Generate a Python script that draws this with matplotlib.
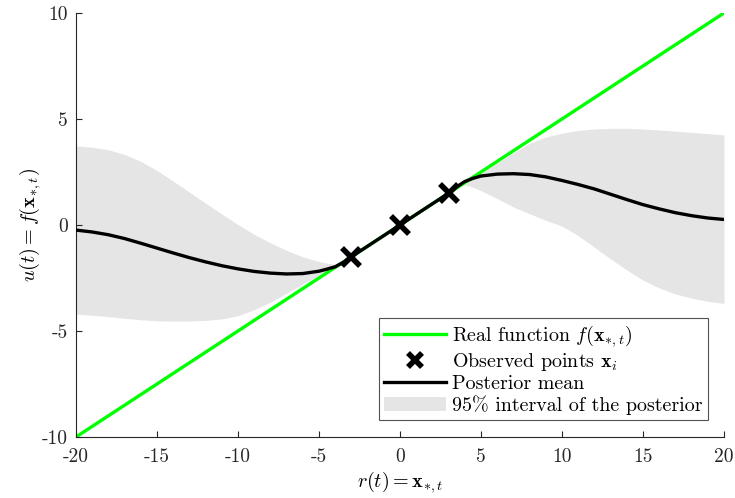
import matplotlib
matplotlib.use("Agg")
import matplotlib.pyplot as plt
from matplotlib.patches import Patch
from matplotlib.lines import Line2D

# LaTeX-like look: Computer Modern for text and math
plt.rcParams['font.family'] = ['cmr10', 'DejaVu Serif']
plt.rcParams['mathtext.fontset'] = 'cm'
plt.rcParams['axes.unicode_minus'] = False
plt.rcParams['axes.formatter.use_mathtext'] = False

# real function and observations
real_x = [-20, 20]
real_y = [-10, 10]
obs_x = [-3, 0, 3]
obs_y = [-1.5, 0, 1.5]

# posterior mean and 95% band, read on a grid
grid_x = [-20, -19, -18, -17, -16, -15, -14, -13, -12, -11, -10, -9, -8, -7, -6,
          -5, -4.5, -4, -3.5, -3, -2, -1, 0, 1, 2, 3, 3.5, 4, 4.5, 5,
          6, 7, 8, 9, 10, 11, 12, 13, 14, 15, 16, 17, 18, 19, 20]
post_mean = [-0.24, -0.33, -0.46, -0.64, -0.86, -1.09, -1.32, -1.54, -1.74, -1.92, -2.07, -2.19, -2.27, -2.31, -2.29,
             -2.18, -2.08, -1.97, -1.76, -1.50, -1.00, -0.50, 0.00, 0.50, 1.00, 1.50, 1.80, 2.05, 2.20, 2.31,
             2.40, 2.42, 2.38, 2.27, 2.10, 1.91, 1.70, 1.45, 1.20, 0.96, 0.76, 0.58, 0.44, 0.33, 0.26]
band_upper = [3.73, 3.67, 3.55, 3.33, 3.00, 2.57, 2.07, 1.55, 1.03, 0.52, 0.02, -0.44, -0.84, -1.20, -1.50,
              -1.72, -1.80, -1.86, -1.72, -1.49, -0.99, -0.49, 0.01, 0.51, 1.01, 1.51, 1.74, 1.98, 2.22, 2.45,
              2.93, 3.40, 3.86, 4.15, 4.33, 4.46, 4.53, 4.56, 4.56, 4.53, 4.48, 4.43, 4.37, 4.31, 4.25]
band_lower = [-4.20, -4.26, -4.32, -4.40, -4.47, -4.52, -4.53, -4.53, -4.50, -4.43, -4.28, -4.00, -3.64, -3.22, -2.78,
              -2.38, -2.20, -2.02, -1.80, -1.51, -1.01, -0.51, -0.01, 0.49, 0.99, 1.49, 1.72, 1.90, 1.78, 1.62,
              1.25, 0.85, 0.53, 0.22, -0.05, -0.50, -1.05, -1.60, -2.12, -2.60, -2.97, -3.25, -3.45, -3.60, -3.70]

x_ticks = [-20, -15, -10, -5, 0, 5, 10, 15, 20]
y_ticks = [-10, -5, 0, 5, 10]

fig = plt.figure(figsize=(7.35, 4.98), dpi=100)
ax = fig.add_axes([0.1034, 0.1225, 0.8816, 0.8514])

band_col = '#e5e5e5'
ax.fill_between(grid_x, band_lower, band_upper, color=band_col, linewidth=0, zorder=1)
ax.plot(real_x, real_y, color='#00ff00', linewidth=2.4, zorder=2)
ax.plot(grid_x, post_mean, color='black', linewidth=2.4, zorder=3)
ax.plot(obs_x, obs_y, linestyle='none', marker='x', color='black',
        markersize=13, markeredgewidth=4, zorder=4)

ax.set_xlim(-20, 20)
ax.set_ylim(-10, 10)
ax.set_xticks(x_ticks)
ax.set_yticks(y_ticks)
ax.set_xticklabels([str(v) for v in x_ticks])
ax.set_yticklabels([str(v) for v in y_ticks])

for side in ['top', 'right']:
    ax.spines[side].set_visible(False)
for side in ['left', 'bottom']:
    ax.spines[side].set_color('#262626')
    ax.spines[side].set_linewidth(0.8)
ax.tick_params(direction='in', length=4.5, width=0.8, color='#262626',
               labelsize=14, labelcolor='#262626')
ax.tick_params(axis='x', pad=8)
ax.tick_params(axis='y', pad=6)

ax.set_xlabel(r'$r(t) = \mathbf{x}_{*,t}$', fontsize=14.5, labelpad=2)
ax.set_ylabel(r'$u(t) = f(\mathbf{x}_{*,t})$', fontsize=14.5, labelpad=-1)

handles = [
    Line2D([], [], color='#00ff00', linewidth=2.4),
    Line2D([], [], linestyle='none', marker='x', color='black', markersize=10, markeredgewidth=4),
    Line2D([], [], color='black', linewidth=2.4),
    Patch(facecolor=band_col, edgecolor='none'),
]
labels = [
    r'Real function $f(\mathbf{x}_{*,t})$',
    r'Observed points $\mathbf{x}_i$',
    'Posterior mean',
    '95% interval of the posterior',
]
leg = ax.legend(handles, labels, loc='lower right', bbox_to_anchor=(0.975, 0.04),
                borderaxespad=0, fontsize=14.4, frameon=True, fancybox=False,
                edgecolor='#262626', handlelength=3.1, handletextpad=0.3,
                labelspacing=0.1, borderpad=0.25)
leg.get_frame().set_linewidth(0.8)

fig.savefig('out.png', dpi=100)
